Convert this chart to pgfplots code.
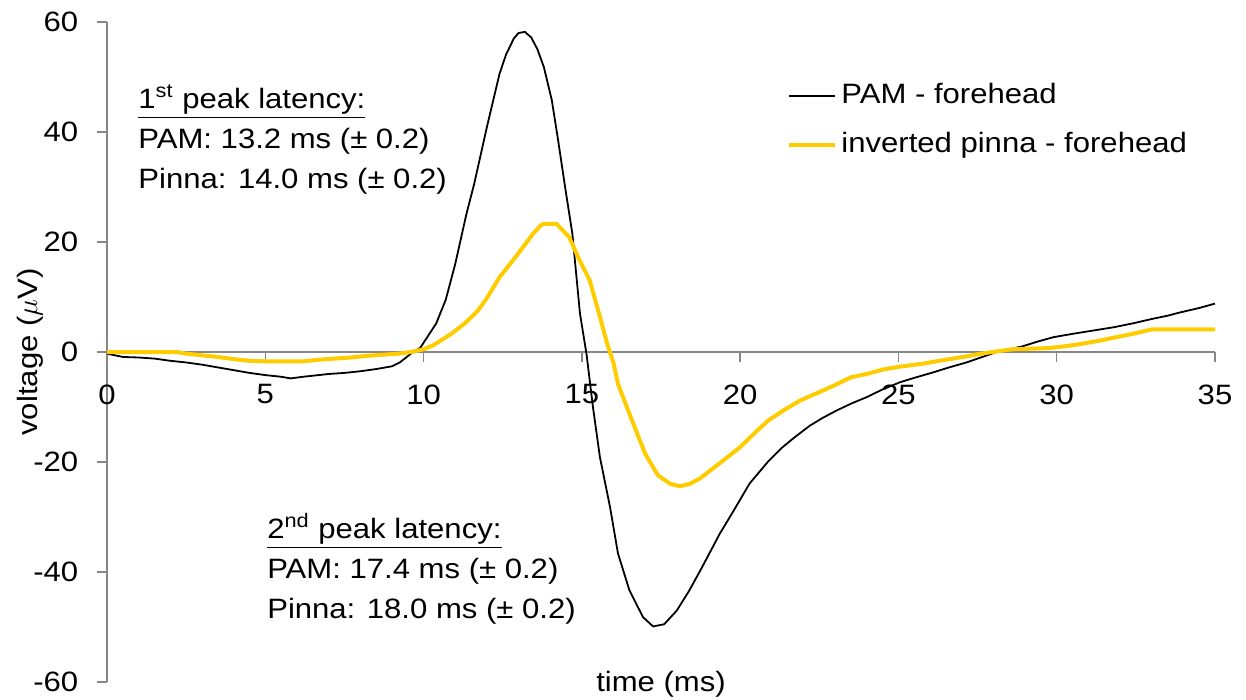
\documentclass[border=0pt]{standalone}
\usepackage{fontspec}
\setmainfont[FakeStretch=1.11]{Liberation Sans}
\usepackage{pgfplots}
\pgfplotsset{compat=1.18}
\definecolor{pinna}{HTML}{FFCC00}
\definecolor{axgray}{HTML}{868686}

% PAM - forehead
\pgfplotstableread{
t v
0 -0.3
0.5 -0.9
1 -1.0
1.5 -1.2
2 -1.6
2.5 -1.9
3 -2.3
3.5 -2.8
4 -3.3
4.5 -3.8
5 -4.2
5.5 -4.5
5.8 -4.8
6.2 -4.5
7 -4.0
7.5 -3.8
8 -3.5
8.5 -3.1
9 -2.6
9.25 -1.9
9.6 -0.3
9.9 0.8
10.4 5.2
10.7 9.5
11 16
11.35 25
11.6 30.6
12.0 40.9
12.4 50.6
12.6 54
12.85 57
13.0 58
13.2 58.2
13.4 57.2
13.6 55
13.8 51.8
14.05 45.8
14.25 38.5
14.47 30
14.7 21.5
14.94 7
15.15 -0.5
15.35 -10
15.57 -19.1
15.89 -28.2
16.14 -36.6
16.5 -43.3
16.93 -48.2
17.25 -49.9
17.6 -49.5
18.0 -47
18.4 -43.3
18.8 -39.1
19.36 -33
19.8 -28.8
20.3 -23.9
20.9 -19.8
21.3 -17.5
21.7 -15.6
22.2 -13.4
22.6 -12
23.06 -10.6
23.5 -9.4
24.0 -8.2
24.5 -6.8
25.05 -5.5
25.5 -4.7
26.1 -3.7
26.6 -2.8
27.15 -1.9
27.6 -1
28.1 0
28.5 0.5
28.9 1
29.4 1.9
29.9 2.7
30.5 3.3
31.15 3.9
31.8 4.5
32.4 5.2
33.0 6
33.5 6.6
33.9 7.2
34.5 8
35 8.8
}\pam

% inverted pinna - forehead
\pgfplotstableread{
t v
0 0
2.2 0
2.5 -0.3
3 -0.6
3.5 -0.9
4 -1.3
4.5 -1.6
5 -1.7
5.5 -1.7
6.2 -1.7
6.7 -1.4
7.2 -1.2
7.7 -1
8.2 -0.7
8.7 -0.5
9.2 -0.3
9.6 0
10 0.5
10.3 1.2
10.9 3.4
11.3 5.2
11.7 7.4
12.0 9.8
12.4 13.6
12.95 17.6
13.46 21.5
13.7 23.0
13.8 23.3
14.2 23.3
14.6 20.9
14.9 17
15.25 13
15.57 6.4
15.8 1.5
16.0 -2
16.14 -5.8
16.5 -11.2
17.0 -18.5
17.4 -22.4
17.8 -24
18.1 -24.4
18.4 -24
18.73 -23
19.36 -20.2
20.0 -17.3
20.5 -14.5
20.9 -12.4
21.4 -10.5
21.9 -8.8
22.5 -7.3
23.0 -6
23.5 -4.6
24.0 -4
24.5 -3.2
25 -2.7
25.8 -2.1
26.5 -1.4
27.15 -0.8
27.6 -0.3
28.1 0.1
28.6 0.5
29.7 0.7
30.2 1.0
30.7 1.4
31.3 2
31.8 2.6
32.4 3.3
33.0 4.1
35 4.1
}\pinna

\begin{document}
\fontsize{14}{16.5}\selectfont
\begin{tikzpicture}
\useasboundingbox (-53.5pt,-9pt) rectangle (569.5pt,341pt);
\begin{axis}[
  scale only axis, width=554pt, height=330pt,
  xmin=0, xmax=35, ymin=-60, ymax=60,
  axis x line*=middle, axis y line*=left,
  hide obscured x ticks=false, hide obscured y ticks=false,
  xtick={0,5,...,35}, ytick={-60,-40,...,60},
  tick align=outside, major tick length=5pt,
  axis line style={axgray, line width=0.7pt},
  tick style={axgray, line width=0.7pt},
  /pgf/number format/assume math mode=true,
  xticklabel style={anchor=north, yshift=-6.5pt},
  yticklabel style={anchor=east, xshift=-4.5pt},
  xlabel={time (ms)},
  xlabel style={at={(axis description cs:0.5,0)}, anchor=center, yshift=-1pt},
  ylabel={voltage ($\mu$V)},
  ylabel style={at={(axis description cs:-0.0695,0.5)}, anchor=center},
  clip=false,
  legend cell align=left,
  legend style={draw=none, fill=none, at={(axis cs:21.48,42.05)}, anchor=west,
    inner sep=0pt, row sep=7.5pt,
    nodes={text height=10pt, text depth=3pt}},
  legend image code/.code={\draw[#1] (0pt,0pt) -- (23pt,0pt);},
]
\addplot[black, line width=0.9pt] table[x=t, y=v] {\pam};
\addlegendentry{PAM - forehead}
\addplot[pinna, line width=2pt] table[x=t, y=v] {\pinna};
\addlegendentry{inverted pinna - forehead}

\node[anchor=base west, inner sep=0pt] at (axis cs:0.98,44.3) {\underline{1\textsuperscript{st} peak latency:}};
\node[anchor=base west, inner sep=0pt] at (axis cs:0.98,37.0) {PAM: 13.2 ms (± 0.2)};
\node[anchor=base west, inner sep=0pt] at (axis cs:0.98,29.8) {Pinna: 14.0 ms (± 0.2)};

\node[anchor=base west, inner sep=0pt] at (axis cs:5.05,-33.9) {\underline{2\textsuperscript{nd} peak latency:}};
\node[anchor=base west, inner sep=0pt] at (axis cs:5.05,-41.2) {PAM: 17.4 ms (± 0.2)};
\node[anchor=base west, inner sep=0pt] at (axis cs:5.05,-48.4) {Pinna: 18.0 ms (± 0.2)};
\end{axis}
\end{tikzpicture}
\end{document}
